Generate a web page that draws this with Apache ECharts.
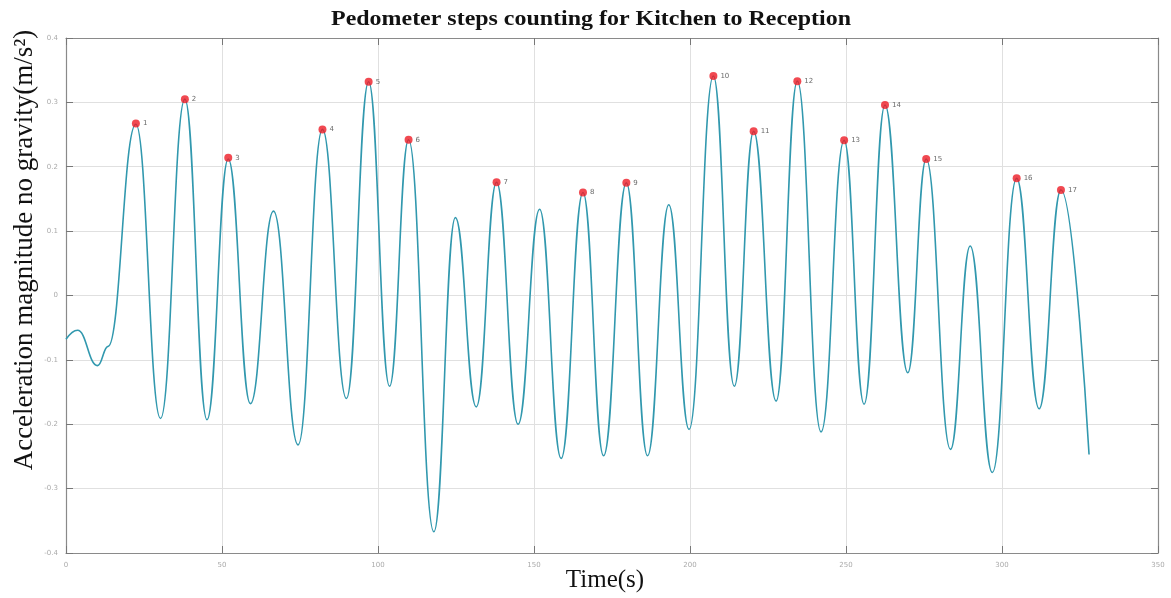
<!DOCTYPE html>
<html>
<head>
<meta charset="utf-8">
<script src="https://cdn.jsdelivr.net/npm/echarts@6/dist/echarts.min.js"></script>
<style>
  html, body { margin: 0; padding: 0; background: #fff; }
  #main { width: 1171px; height: 598px; }
</style>
</head>
<body>
<div id="main"></div>
<script>
// signal turning points (time in s, acceleration in m/s^2)
var times = [0, 3.7, 10.1, 13.5, 22.4, 30.3, 38.1, 45.2, 52.0, 59.1, 66.5, 74.4, 82.2, 89.9, 97.0, 103.7,
  109.8, 117.9, 124.8, 131.5, 138.0, 144.9, 151.8, 158.7, 165.7, 172.3, 179.6, 186.4, 193.2, 199.7,
  207.5, 214.2, 220.4, 227.6, 234.4, 242.0, 249.4, 255.8, 262.5, 269.8, 275.7, 283.5, 289.8, 296.9,
  304.7, 311.9, 318.9, 327.9];
var accel = [-0.068, -0.054, -0.109, -0.079, 0.266, -0.191, 0.305, -0.193, 0.212, -0.168, 0.131, -0.232,
  0.258, -0.160, 0.332, -0.141, 0.242, -0.367, 0.121, -0.173, 0.176, -0.200, 0.134, -0.253, 0.160,
  -0.249, 0.175, -0.249, 0.141, -0.208, 0.341, -0.141, 0.255, -0.164, 0.333, -0.212, 0.241, -0.169,
  0.296, -0.120, 0.212, -0.239, 0.077, -0.275, 0.182, -0.176, 0.164, -0.247];

// detected steps
var stepTimes = [22.4, 38.1, 52.0, 82.2, 97.0, 109.8, 138.0, 165.7, 179.6, 207.5, 220.4, 234.4,
  249.4, 262.5, 275.7, 304.7, 318.9];
var stepValues = [0.267, 0.305, 0.214, 0.258, 0.332, 0.242, 0.176, 0.160, 0.175, 0.341, 0.255,
  0.333, 0.241, 0.296, 0.212, 0.182, 0.164];
var stepLabels = ["1", "2", "3", "4", "5", "6", "7", "8", "9", "10", "11", "12", "13", "14", "15", "16", "17"];

var lineData = times.map(function (t, i) { return [t, accel[i]]; });
var stepData = stepTimes.map(function (t, i) { return { value: [t, stepValues[i]], name: stepLabels[i] }; });

var chart = echarts.init(document.getElementById("main"));

var gridLine = { show: true, lineStyle: { color: "#e0e0e0", width: 1 } };
var boxLine = { show: true, onZero: false, lineStyle: { color: "#8a8a8a", width: 1.2 } };
var tickIn = { show: true, inside: true, length: 7, lineStyle: { color: "#777" } };
var tinyLabel = { color: "#aaa", fontSize: 7, fontFamily: "DejaVu Sans" };

var option = {
  animation: false,
  backgroundColor: "#fff",
  grid: { left: 66, right: 13, top: 38, bottom: 45 },
  xAxis: [
    {
      type: "value", min: 0, max: 350, interval: 50,
      axisLine: boxLine, axisTick: tickIn, splitLine: gridLine,
      axisLabel: Object.assign({ margin: 9 }, tinyLabel)
    },
    {
      type: "value", position: "top", min: 0, max: 350, interval: 50,
      axisLine: boxLine, axisTick: tickIn, splitLine: { show: false }, axisLabel: { show: false }
    }
  ],
  yAxis: [
    {
      type: "value", min: -0.4, max: 0.4, interval: 0.1,
      axisLine: boxLine, axisTick: tickIn, splitLine: gridLine,
      axisLabel: Object.assign({ margin: 8, formatter: function (v) { return +v.toFixed(1); } }, tinyLabel)
    },
    {
      type: "value", position: "right", min: -0.4, max: 0.4, interval: 0.1,
      axisLine: boxLine, axisTick: tickIn, splitLine: { show: false }, axisLabel: { show: false }
    }
  ],
  graphic: [
    {
      type: "text", x: 591, y: 20, scaleX: 1.14,
      style: {
        text: "Pedometer steps counting for Kitchen to Reception",
        font: "bold 21px 'Liberation Serif'", fill: "#111",
        textAlign: "center", textVerticalAlign: "middle"
      }
    },
    {
      type: "text", x: 25, y: 250, rotation: Math.PI / 2,
      style: {
        text: "Acceleration magnitude no gravity(m/s\u00B2)",
        font: "27px 'Liberation Serif'", fill: "#111",
        textAlign: "center", textVerticalAlign: "middle"
      }
    },
    {
      type: "text", x: 605, y: 580,
      style: {
        text: "Time(s)", font: "25px 'Liberation Serif'", fill: "#111",
        textAlign: "center", textVerticalAlign: "middle"
      }
    }
  ],
  series: [
    {
      type: "line",
      data: lineData,
      smooth: 0.45,
      smoothMonotone: "x",
      showSymbol: false,
      lineStyle: { color: "#3198ae", width: 1.6 },
      z: 2
    },
    {
      type: "scatter",
      data: stepData,
      symbolSize: 8,
      itemStyle: { color: "#ee1c25" },
      label: {
        show: true, position: "right", distance: 3,
        formatter: "{b}", fontSize: 7, color: "#444", fontFamily: "DejaVu Sans"
      },
      z: 3
    }
  ]
};

chart.setOption(option);
window.onresize = chart.resize;
</script>
</body>
</html>
